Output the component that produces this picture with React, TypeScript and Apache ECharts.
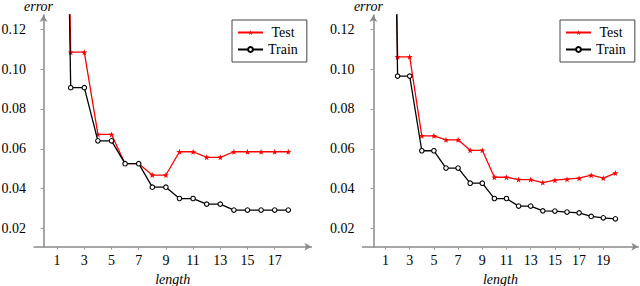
import React, { useEffect, useRef } from "react";
import * as echarts from "echarts";

const lengthsLeft = [1, 2, 3, 4, 5, 6, 7, 8, 9, 10, 11, 12, 13, 14, 15, 16, 17, 18];
const testLeft = [0.5, 0.1085, 0.1085, 0.0672, 0.0672, 0.0525, 0.0525, 0.0468, 0.0468, 0.0585, 0.0585, 0.0557, 0.0557, 0.0585, 0.0585, 0.0585, 0.0585, 0.0585];
const trainLeft = [0.5, 0.0907, 0.0907, 0.064, 0.064, 0.0525, 0.0525, 0.0407, 0.0407, 0.035, 0.035, 0.0322, 0.0322, 0.0292, 0.0292, 0.0292, 0.0292, 0.0292];

const lengthsRight = [1, 2, 3, 4, 5, 6, 7, 8, 9, 10, 11, 12, 13, 14, 15, 16, 17, 18, 19, 20];
const testRight = [0.5, 0.1062, 0.1062, 0.0665, 0.0665, 0.0645, 0.0645, 0.0592, 0.0592, 0.0457, 0.0457, 0.0445, 0.0445, 0.043, 0.0442, 0.0447, 0.0452, 0.0467, 0.0453, 0.0478];
const trainRight = [0.5, 0.0965, 0.0965, 0.059, 0.059, 0.0503, 0.0503, 0.0427, 0.0427, 0.035, 0.035, 0.0312, 0.0312, 0.0288, 0.0287, 0.0282, 0.0278, 0.026, 0.0253, 0.0248];

const yTicks = [0.02, 0.04, 0.06, 0.08, 0.1, 0.12];
const xTicksLeft = [1, 3, 5, 7, 9, 11, 13, 15, 17];
const xTicksRight = [1, 3, 5, 7, 9, 11, 13, 15, 17, 19];

const FONT = "'Liberation Serif', serif";
const FS = 14;
const STAR = "path://M0,-1 L0.24,-0.33 L0.95,-0.31 L0.39,0.13 L0.59,0.81 L0,0.41 L-0.59,0.81 L-0.39,0.13 L-0.95,-0.31 L-0.24,-0.33 Z";

const pairs = (xs: number[], ys: number[]) => xs.map((x, i) => [x, ys[i]]);

function xAxisCfg(idx: number, min: number, max: number, ticks: number[]) {
  return {
    type: "value",
    gridIndex: idx,
    min,
    max,
    name: "length",
    nameLocation: "middle",
    nameGap: 25.5,
    nameTextStyle: { fontFamily: FONT, fontStyle: "italic", fontSize: FS, color: "#000" },
    axisLine: { show: true, lineStyle: { color: "#8a8a8a", width: 1.5 }, symbol: ["none", "arrow"], symbolSize: [6, 7] },
    axisTick: { show: true, length: 3, lineStyle: { color: "#999" }, customValues: ticks },
    axisLabel: { fontFamily: FONT, fontSize: FS, color: "#000", margin: 7, customValues: ticks },
    splitLine: { show: false },
  };
}

function yAxisCfg(idx: number) {
  return {
    type: "value",
    gridIndex: idx,
    min: 0.0108,
    max: 0.1272,
    name: "error",
    nameLocation: "end",
    nameGap: 3,
    nameTextStyle: {
      fontFamily: FONT,
      fontStyle: "italic",
      fontSize: FS,
      color: "#000",
      align: "center",
      verticalAlign: "bottom",
      lineHeight: 12,
      padding: [0, 10, 0, 0],
    },
    axisLine: { show: true, lineStyle: { color: "#8a8a8a", width: 1.5 }, symbol: ["none", "arrow"], symbolSize: [6, 7] },
    axisTick: { show: true, length: 3, lineStyle: { color: "#999" }, customValues: yTicks },
    axisLabel: { fontFamily: FONT, fontSize: FS, color: "#000", margin: 8, customValues: yTicks, formatter: (v: number) => v.toFixed(2) },
    splitLine: { show: false },
  };
}

function testSeries(idx: number, data: number[][]) {
  return {
    name: "Test",
    type: "line",
    xAxisIndex: idx,
    yAxisIndex: idx,
    data,
    clip: true,
    symbol: STAR,
    symbolSize: 6,
    showAllSymbol: true,
    lineStyle: { color: "#ff0000", width: 1.3 },
    itemStyle: { color: "#ff0000" },
    z: 2,
  };
}

function trainSeries(idx: number, data: number[][]) {
  return {
    name: "Train",
    type: "line",
    xAxisIndex: idx,
    yAxisIndex: idx,
    data,
    clip: true,
    symbol: "circle",
    symbolSize: 4.5,
    showAllSymbol: true,
    lineStyle: { color: "#000", width: 1.3 },
    itemStyle: { color: "#fff", borderColor: "#000", borderWidth: 1.1 },
    z: 3,
  };
}

function legendCfg(left: number) {
  return {
    left,
    top: 20,
    orient: "vertical",
    data: ["Test", "Train"],
    borderColor: "#444",
    borderWidth: 1,
    borderRadius: 0,
    padding: [5, 9, 5, 5],
    itemWidth: 25,
    itemHeight: 6,
    itemGap: 2,
    formatter: (name: string) => (name === "Test" ? "\u00a0" + name : name),
    textStyle: { fontFamily: FONT, fontSize: FS, color: "#000", lineHeight: 15 },
  };
}

export default function App() {
  const ref = useRef<HTMLDivElement>(null);
  useEffect(() => {
    if (!ref.current) return;
    const chart = echarts.init(ref.current, undefined, { renderer: "svg" });
    chart.setOption({
      animation: false,
      backgroundColor: "#fff",
      textStyle: { fontFamily: FONT },
      grid: [
        { left: 34, top: 15, width: 277.4, bottom: 39.3, containLabel: false, outerBoundsMode: "none" },
        { left: 362.5, top: 15, width: 275.9, bottom: 39.3, containLabel: false, outerBoundsMode: "none" },
      ],
      xAxis: [xAxisCfg(0, -0.7, 19.7, xTicksLeft), xAxisCfg(1, -0.9, 21.9, xTicksRight)],
      yAxis: [yAxisCfg(0), yAxisCfg(1)],
      legend: [legendCfg(232), legendCfg(560)],
      series: [
        testSeries(0, pairs(lengthsLeft, testLeft)),
        trainSeries(0, pairs(lengthsLeft, trainLeft)),
        testSeries(1, pairs(lengthsRight, testRight)),
        trainSeries(1, pairs(lengthsRight, trainRight)),
      ],
    });
    return () => chart.dispose();
  }, []);
  return <div ref={ref} style={{ position: "fixed", left: 0, top: 0, width: 640, height: 286 }} />;
}
